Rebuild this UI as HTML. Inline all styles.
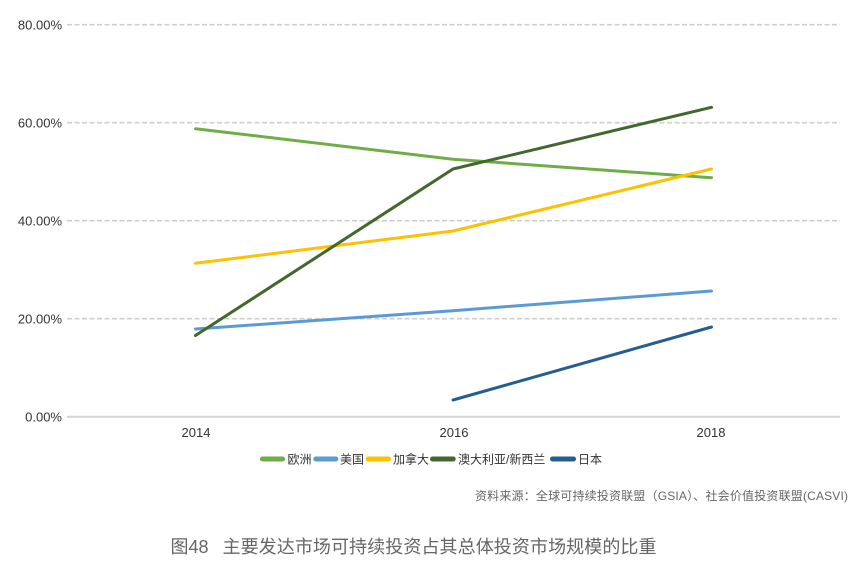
<!DOCTYPE html>
<html>
<head>
<meta charset="utf-8">
<style>
html,body{margin:0;padding:0;background:#fff;}
body{width:866px;height:565px;overflow:hidden;}
svg{display:block;}
.tk{font-family:"Liberation Sans","Noto Sans CJK SC",sans-serif;font-size:13px;fill:#333;}
.lg{font-family:"Liberation Sans","Noto Sans CJK SC",sans-serif;font-size:12px;fill:#333;}
.src{font-family:"Liberation Sans","Noto Sans CJK SC",sans-serif;font-size:12px;fill:#666;}
.ttl{font-family:"Liberation Sans","Noto Sans CJK SC",sans-serif;font-size:18px;fill:#666;}
</style>
</head>
<body>
<svg width="866" height="565" viewBox="0 0 866 565" xmlns="http://www.w3.org/2000/svg">
  <!-- gridlines -->
  <g stroke="#cfcfcf" stroke-width="1.6" stroke-dasharray="5 2.5">
    <line x1="67" y1="24.7" x2="840" y2="24.7"/>
    <line x1="67" y1="122.7" x2="840" y2="122.7"/>
    <line x1="67" y1="220.7" x2="840" y2="220.7"/>
    <line x1="67" y1="318.7" x2="840" y2="318.7"/>
  </g>
  <line x1="67" y1="416.7" x2="840" y2="416.7" stroke="#d4d4d4" stroke-width="2"/>

  <!-- y tick labels -->
  <g class="tk" text-anchor="end">
    <text x="62" y="29.5">80.00%</text>
    <text x="62" y="127.5">60.00%</text>
    <text x="62" y="225.5">40.00%</text>
    <text x="62" y="323.5">20.00%</text>
    <text x="62" y="421.5">0.00%</text>
  </g>
  <!-- x labels -->
  <g class="tk" text-anchor="middle">
    <text x="196" y="437">2014</text>
    <text x="454" y="437">2016</text>
    <text x="711" y="437">2018</text>
  </g>

  <!-- series -->
  <g fill="none" stroke-width="3" stroke-linejoin="round" stroke-linecap="round">
    <polyline stroke="#70AD47" points="195.5,128.7 453,159.3 711.5,177.7"/>
    <polyline stroke="#5B9BD5" points="195.5,329 453,310.7 711.5,291"/>
    <polyline stroke="#FFC000" points="195.5,263.3 453,231 711.5,169"/>
    <polyline stroke="#43682B" points="195.5,335.5 453,169 711.5,107.3"/>
    <polyline stroke="#255E91" points="453,400 711.5,327"/>
  </g>

  <!-- legend -->
  <g stroke-width="5" stroke-linecap="round">
    <line x1="262.5" y1="459" x2="282.5" y2="459" stroke="#70AD47"/>
    <line x1="315.8" y1="459" x2="335.8" y2="459" stroke="#5B9BD5"/>
    <line x1="368.2" y1="459" x2="388.5" y2="459" stroke="#FFC000"/>
    <line x1="432.5" y1="459" x2="453.2" y2="459" stroke="#43682B"/>
    <line x1="552.5" y1="459" x2="573.5" y2="459" stroke="#255E91"/>
  </g>
  <g class="lg">
    <text x="287.5" y="463.5">欧洲</text>
    <text x="340" y="463.5">美国</text>
    <text x="393" y="463.5">加拿大</text>
    <text x="458" y="463.5">澳大利亚/新西兰</text>
    <text x="578" y="463.5">日本</text>
  </g>

  <!-- source -->
  <text class="src" x="475" y="500" textLength="373" lengthAdjust="spacing">资料来源：全球可持续投资联盟（GSIA）、社会价值投资联盟(CASVI)</text>

  <!-- title -->
  <text class="ttl" x="170.5" y="553">图48</text>
  <text class="ttl" x="222.5" y="553" textLength="434" lengthAdjust="spacing">主要发达市场可持续投资占其总体投资市场规模的比重</text>
</svg>
</body>
</html>
